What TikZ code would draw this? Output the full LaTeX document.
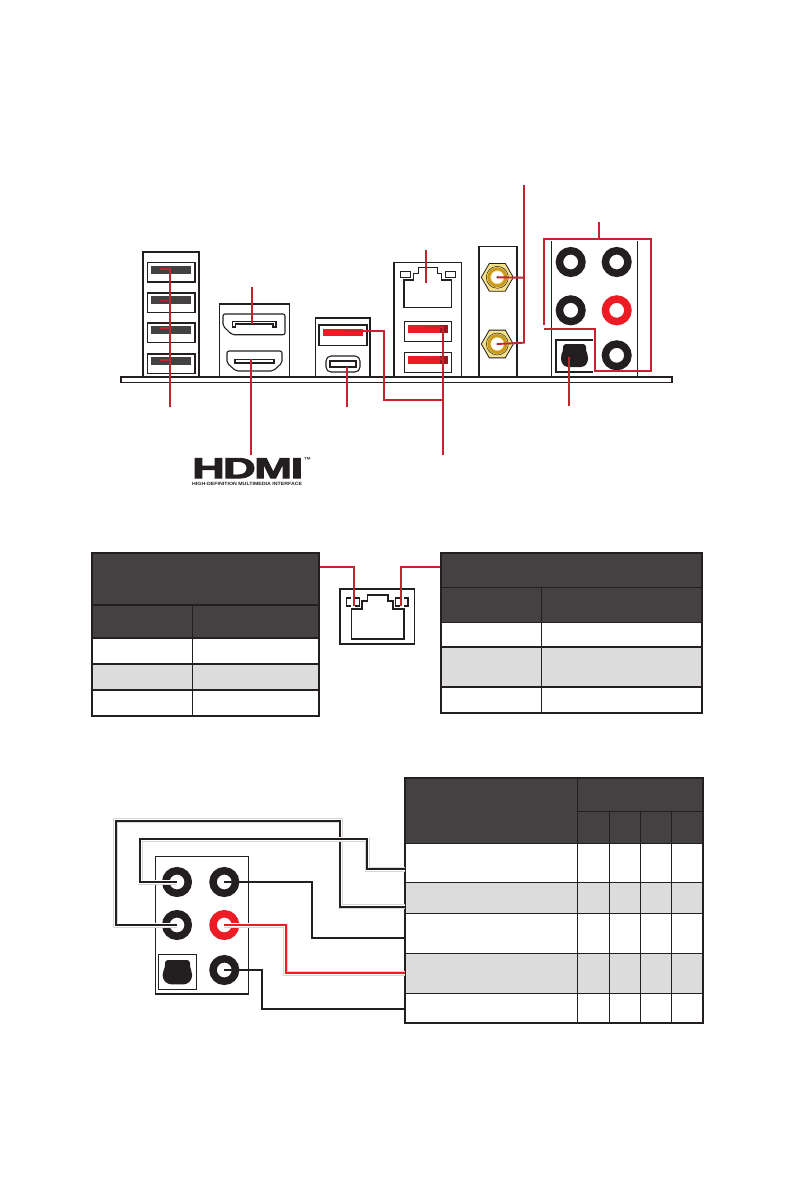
\documentclass[tikz,border=0pt]{standalone}
\usepackage{xcolor}
\usepackage{fontspec}
\setmainfont{Liberation Sans}
\newfontfamily\logofont[BoldFeatures={FakeBold=3}]{Liberation Sans}
\definecolor{boardink}{RGB}{35,31,32}
\definecolor{headdark}{RGB}{68,65,66}
\definecolor{rowgray}{RGB}{220,220,220}
\definecolor{leadred}{RGB}{196,36,46}
\definecolor{jackred}{RGB}{237,28,36}
\definecolor{darkred}{RGB}{150,25,30}
\definecolor{goldfill}{RGB}{245,225,140}
\definecolor{goldring}{RGB}{200,155,30}
\definecolor{halogray}{RGB}{215,215,215}
\definecolor{halored}{RGB}{250,200,200}
\usetikzlibrary{shapes.geometric}
\tikzset{
  thinline/.style={draw=boardink, line width=1.1pt},
  heavyline/.style={draw=boardink, line width=2pt},
  portline/.style={draw=boardink, line width=1.6pt},
  leadline/.style={draw=leadred, line width=1.9pt},
  wireline/.style={draw=boardink, line width=1.8pt},
  redwire/.style={draw=jackred, line width=1.8pt},
  haloline/.style={draw=halogray, line width=5pt},
  redhalo/.style={draw=halored, line width=5pt},
  gapline/.style={draw=white, line width=3.4pt},
  jack/.style={circle, draw=boardink, fill=white, line width=7.5pt, minimum size=22.5pt, inner sep=0pt},
  redjack/.style={jack, draw=jackred},
  coax/.style={regular polygon, regular polygon sides=6, draw=boardink, fill=goldfill, line width=0.8pt, minimum size=32pt, inner sep=0pt},
  tablegrid/.style={draw=boardink, line width=1.1pt},
  tableedge/.style={draw=boardink, line width=2pt}
}
\begin{document}
\begin{tikzpicture}[x=1pt,y=-1pt]
  \useasboundingbox (0,0) rectangle (794,1191);
  % io panel
  \draw[thinline] (143,376) -- (143,252) -- (199,252) -- (199,376);
  \draw[heavyline] (143,252) -- (199,252);
  \foreach \ytop in {262.5,293,323,354} {
    \draw[thinline, fill=white] (147.5,\ytop) rectangle (195,\ytop+19.5);
    \fill[headdark] (151,\ytop+3) rectangle (191,\ytop+11);
  }
  \draw[thinline] (219.3,376) -- (219.3,303.7) -- (289.3,303.7) -- (289.3,376);
  \draw[heavyline] (219.3,303.7) -- (289.3,303.7);
  \draw[thinline, rounded corners=2pt] (223,314) -- (285,314) -- (285,334.7) -- (232,334.7) -- (223,326) -- cycle;
  \draw[thinline] (232.5,327) -- (232.5,321.5) -- (276,321.5) -- (276,327) -- (273,327) -- (273,324) -- (235.5,324) -- (235.5,327) -- cycle;
  \draw[thinline, rounded corners=2pt] (227,351) -- (282,351) -- (282,363) -- (273,371) -- (236,371) -- (227,363) -- cycle;
  \draw[thinline] (235,359.5) rectangle (274,363);
  \draw[thinline] (315.7,376) -- (315.7,317.7) -- (370,317.7) -- (370,376);
  \draw[heavyline] (315.7,317.7) -- (370,317.7);
  \draw[thinline] (319,325) rectangle (367,345.7);
  \fill[jackred] (323,329) rectangle (363,336);
  \draw[thinline, rounded corners=5pt] (326,356) rectangle (360,372);
  \draw[thinline] (330,361) rectangle (356,367);
  \draw[thinline] (394,376) -- (394,262.3) -- (461.7,262.3) -- (461.7,376);
  \draw[thinline] (404,280) -- (413.5,280) -- (413.5,273.5) -- (418.5,273.5) -- (418.5,267.7) -- (437.5,267.7) -- (437.5,273.5) -- (441.7,273.5) -- (441.7,280) -- (451.7,280) -- (451.7,307.3) -- (404,307.3) -- cycle;
  \draw[thinline] (400.3,271.3) rectangle (410.7,277.7);
  \draw[thinline] (445.3,271.3) rectangle (455.7,277.7);
  \foreach \ytop in {321.3,352.3} {
    \draw[thinline] (404.3,\ytop) rectangle (451.7,\ytop+20);
    \fill[jackred] (408,\ytop+3.7) rectangle (440,\ytop+11.4);
    \fill[darkred] (440,\ytop+3.7) rectangle (448,\ytop+11.4);
  }
  \draw[thinline] (478.7,376) -- (478.7,246.3) -- (517.3,246.3) -- (517.3,376);
  \draw[heavyline] (478.7,376) -- (478.7,246.3);
  \draw[heavyline] (517.3,246.3) -- (517.3,376);
  \foreach \nodename/\ypos in {coaxtop/277.3,coaxlow/344} {
    \node[coax] (\nodename) at (497.3,\ypos) {};
    \draw[boardink, line width=0.5pt] (\nodename.center) circle (11);
    \draw[goldring, line width=3pt] (\nodename.center) circle (8.5);
    \fill[white] (\nodename.center) circle (6);
    \fill[boardink] (\nodename.center) circle (1);
  }
  \draw[thinline] (551.7,241) -- (551.7,376);
  \draw[thinline] (637.7,241) -- (637.7,376);
  \node[jack] (topleft) at (570.7,262) {};
  \node[jack] (topright) at (616.7,262) {};
  \node[jack] (midleft) at (570.7,310.3) {};
  \node[redjack] (midright) at (616.7,310.3) {};
  \node[jack] (lowright) at (616.7,355.3) {};
  \draw[thinline] (593,340) -- (556,340) -- (556,372) -- (593,372);
  \fill[boardink, rounded corners=3pt] (563,344) -- (586,344) -- (586,352) -- (588,355) -- (588,362) -- (584,367) -- (565,367) -- (561,362) -- (561,355) -- (563,352) -- cycle;
  % board edge
  \draw[thinline, fill=white] (121,376.7) rectangle (672,382.7);
  \draw[heavyline] (121,376.7) -- (672,376.7);
  % leader lines
  \coordinate (usbfoot) at (170,407);
  \coordinate (dpfoot) at (252,287);
  \coordinate (hdmifoot) at (251,455);
  \coordinate (typecfoot) at (346.7,407);
  \coordinate (optfoot) at (569,405.7);
  \coordinate (lanfoot) at (425.7,250);
  \coordinate (usbbfoot) at (442.7,455);
  \coordinate (coaxfoot) at (524,185);
  \coordinate (audiofoot) at (599,222);
  \draw[leadline] (usbfoot) -- (170,269) -- (160,269);
  \foreach \ypos in {300.5,328,360} \draw[leadline] (170,\ypos) -- (160,\ypos);
  \draw[leadline] (dpfoot) -- (252,323.7);
  \draw[leadline] (hdmifoot) -- (251,359);
  \draw[leadline] (typecfoot) -- (346.7,367);
  \draw[leadline] (345,330.7) -- (384,330.7) -- (384,400) -- (442.7,400);
  \draw[leadline] (usbbfoot) -- (442.7,327) -- (425,327);
  \draw[leadline] (442.7,359) -- (425,359);
  \draw[leadline] (lanfoot) -- (425.7,282.7);
  \draw[leadline] (coaxfoot) -- (524,342.7) -- (coaxlow.center);
  \draw[leadline] (524,277.7) -- (coaxtop.center);
  \draw[leadline] (optfoot) -- (569,356.7);
  \draw[leadline] (543.7,325) -- (543.7,239) -- (651,239) -- (651,371) -- (595,371) -- (595,328.7) -- (544,328.7);
  \draw[leadline] (audiofoot) -- (599,239);
  % hdmi logo
  \node[inner sep=0pt, anchor=north west, text=boardink] (hdmilogo) at (192,458) {\resizebox{111pt}{20pt}{\logofont\bfseries H\kern-.04em D\kern-.03em M\kern-.03em I}};
  \node[inner sep=0pt, anchor=north west, text=boardink] (hdmitext) at (192,482) {\resizebox{110pt}{3.2pt}{\bfseries HIGH-DEFINITION MULTIMEDIA INTERFACE}};
  \node[inner sep=0pt, font=\bfseries\fontsize{7}{7}\selectfont, text=boardink] (hdmitm) at (307.5,460.5) {™};
  % left lan table
  \fill[headdark] (92,553) rectangle (319,638);
  \fill[rowgray] (92,664) rectangle (319,690);
  \draw[tablegrid] (92,605) -- (319,605);
  \draw[tablegrid] (92,638) -- (319,638);
  \draw[tablegrid] (92,664) -- (319,664);
  \draw[tablegrid] (92,690) -- (319,690);
  \draw[tablegrid] (192.5,605) -- (192.5,716);
  \node[rectangle, tableedge, minimum width=227pt, minimum height=163pt, inner sep=0pt] (speedtable) at (205.5,634.5) {};
  % right lan table
  \fill[headdark] (441,553) rectangle (702,622.5);
  \fill[rowgray] (441,647) rectangle (702,687);
  \draw[tablegrid] (441,587.5) -- (702,587.5);
  \draw[tablegrid] (441,622.5) -- (702,622.5);
  \draw[tablegrid] (441,647) -- (702,647);
  \draw[tablegrid] (441,687) -- (702,687);
  \draw[tablegrid] (541.5,587.5) -- (541.5,713);
  \node[rectangle, tableedge, minimum width=261pt, minimum height=160pt, inner sep=0pt] (linktable) at (571.5,633) {};
  % lan port
  \node[rectangle, thinline, minimum width=74.6pt, minimum height=55pt, inner sep=0pt] (lanport) at (377.3,616.5) {};
  \draw[portline] (351.4,609) -- (362,609) -- (362,600.7) -- (367.4,600.7) -- (367.4,594.7) -- (387.8,594.7) -- (387.8,600.7) -- (393,600.7) -- (393,609) -- (403.8,609) -- (403.8,638.7) -- (351.4,638.7) -- cycle;
  \draw[portline] (351,598) -- (346.6,598) -- (346.6,605.7) -- (351,605.7);
  \draw[portline] (355,598) -- (359.4,598) -- (359.4,605.7) -- (355,605.7);
  \draw[portline] (400,598) -- (395.4,598) -- (395.4,605.7) -- (400,605.7);
  \draw[portline] (404,598) -- (408.2,598) -- (408.2,605.7) -- (404,605.7);
  \coordinate (ledleft) at (353.8,605.7);
  \coordinate (ledright) at (401,605.7);
  \draw[leadline] (speedtable.east |- 0,566.7) -- (353.8,566.7) -- (ledleft);
  \draw[leadline] (linktable.west |- 0,566.7) -- (401,566.7) -- (ledright);
  % audio table
  \fill[headdark] (405,778) rectangle (703,843.3);
  \fill[rowgray] (405,882.3) rectangle (703,913.3);
  \fill[rowgray] (405,953.3) rectangle (703,993.3);
  \draw[tablegrid] (577.3,811.3) -- (703,811.3);
  \foreach \ypos in {843.3,882.3,913.3,953.3,993.3} \draw[tablegrid] (405,\ypos) -- (703,\ypos);
  \draw[tablegrid] (577.3,778) -- (577.3,1023.3);
  \foreach \xpos in {609.3,640.3,671.7} \draw[tablegrid] (\xpos,811.3) -- (\xpos,1023.3);
  \node[rectangle, tableedge, minimum width=298pt, minimum height=245.3pt, inner sep=0pt] (audiotable) at (554,900.65) {};
  % audio block
  \draw[thinline] (155.3,994) -- (155.3,856.7) -- (248.7,856.7) -- (248.7,994);
  \draw[heavyline] (155.3,994) -- (248.7,994);
  \draw[thinline] (158.3,954.3) rectangle (196.7,989.7);
  \fill[boardink, rounded corners=3pt] (165,960) -- (190,960) -- (190,968) -- (192,972) -- (192,979) -- (187,984.3) -- (168,984.3) -- (162.7,979) -- (162.7,972) -- (165,968) -- cycle;
  \node[jack] (lineout) at (177,882) {};
  \node[jack] (linein) at (224.3,882) {};
  \node[jack] (rearout) at (177,925) {};
  \node[redjack] (micin) at (224.3,925) {};
  \node[jack] (sideout) at (224.3,970) {};
  \coordinate (rowone) at (405,869.3);
  \coordinate (rowtwo) at (405,906.7);
  \coordinate (rowthree) at (405,937.7);
  \coordinate (rowfour) at (405,973.3);
  \coordinate (rowfive) at (405,1008.7);
  % wires
  \draw[haloline] (rearout.center) -| (115.7,820.7) -| (340,906.7) -- (rowtwo);
  \draw[gapline] (rearout.center) -| (115.7,820.7) -| (340,906.7) -- (rowtwo);
  \draw[wireline] (rearout.center) -| (115.7,820.7) -| (340,906.7) -- (rowtwo);
  \draw[haloline] (lineout.center) -| (140,839) -| (367.3,869.3) -- (rowone);
  \draw[gapline] (lineout.center) -| (140,839) -| (367.3,869.3) -- (rowone);
  \draw[wireline] (lineout.center) -| (140,839) -| (367.3,869.3) -- (rowone);
  \draw[wireline] (linein.center) -| (312,937.7) -- (rowthree);
  \draw[redhalo] (micin.center) -| (285.7,973.3) -- (rowfour);
  \draw[gapline] (micin.center) -| (285.7,973.3) -- (rowfour);
  \draw[redwire] (micin.center) -| (285.7,973.3) -- (rowfour);
  \draw[wireline] (sideout.center) -| (262,1008.7) -- (rowfive);
\end{tikzpicture}
\end{document}
